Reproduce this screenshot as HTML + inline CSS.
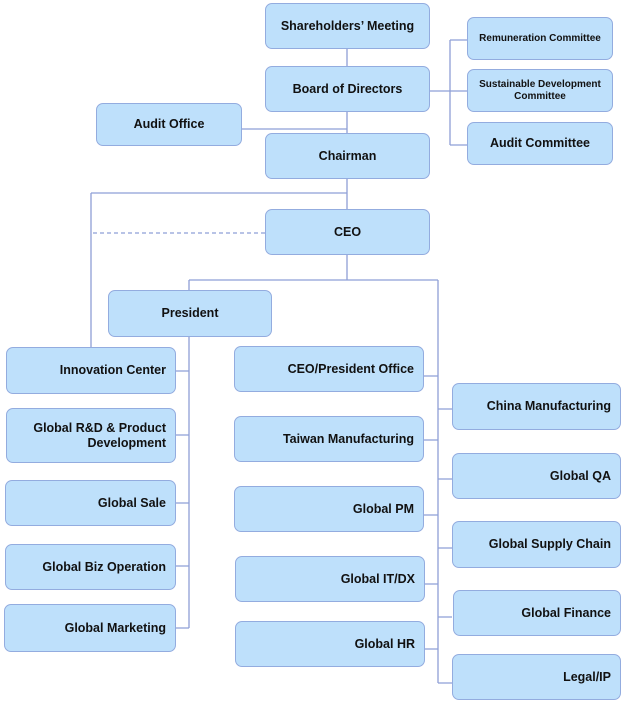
<!DOCTYPE html>
<html><head><meta charset="utf-8"><style>
body{margin:0;width:624px;height:708px;background:#fff;position:relative;overflow:hidden;font-family:"Liberation Sans",sans-serif;}
.b{position:absolute;box-sizing:border-box;background:#bee0fb;border:1.5px solid #93acdf;border-radius:7px;display:flex;align-items:center;justify-content:center;font-weight:bold;font-size:12.5px;color:#111;text-align:center;line-height:15px;}
.r{justify-content:flex-end;text-align:right;padding-right:9px;}
.s{font-size:10px;line-height:12px;}
svg{position:absolute;left:0;top:0;}
</style></head><body>
<svg width="624" height="708" stroke="#8e9fd6" stroke-width="1.3" fill="none">
<path d="M347 48V133M242 129H347M347 179V209M91 193H347M91 193V347M347 255V280M189 280H438M189 280V290M438 280V683M189 337V628"/>
<path d="M430 91H467M450 40V145M450 40H467M450 145H467"/>
<path d="M176 371H189M176 435H189M176 503H189M176 566H189M176 628H189"/>
<path d="M424 376H438M424 440H438M424 515H438M424 584H438M424 649H438"/>
<path d="M438 409H452M438 479H452M438 548H452M438 617H452M438 683H452"/>
<path d="M93 233H265" stroke-dasharray="4 3"/>
</svg>
<div class="b" style="left:265px;top:3px;width:165px;height:46px">Shareholders’ Meeting</div>
<div class="b" style="left:265px;top:66px;width:165px;height:46px">Board of Directors</div>
<div class="b" style="left:96px;top:103px;width:146px;height:43px">Audit Office</div>
<div class="b" style="left:265px;top:133px;width:165px;height:46px">Chairman</div>
<div class="b" style="left:265px;top:209px;width:165px;height:46px">CEO</div>
<div class="b" style="left:108px;top:290px;width:164px;height:47px">President</div>
<div class="b s" style="left:467px;top:17px;width:146px;height:43px">Remuneration Committee</div>
<div class="b s" style="left:467px;top:69px;width:146px;height:43px">Sustainable Development<br>Committee</div>
<div class="b" style="left:467px;top:122px;width:146px;height:43px">Audit Committee</div>

<div class="b r" style="left:6px;top:347px;width:170px;height:47px">Innovation Center</div>
<div class="b r" style="left:6px;top:408px;width:170px;height:55px">Global R&amp;D &amp; Product<br>Development</div>
<div class="b r" style="left:5px;top:480px;width:171px;height:46px">Global Sale</div>
<div class="b r" style="left:5px;top:544px;width:171px;height:46px">Global Biz Operation</div>
<div class="b r" style="left:4px;top:604px;width:172px;height:48px">Global Marketing</div>

<div class="b r" style="left:234px;top:346px;width:190px;height:46px">CEO/President Office</div>
<div class="b r" style="left:234px;top:416px;width:190px;height:46px">Taiwan Manufacturing</div>
<div class="b r" style="left:234px;top:486px;width:190px;height:46px">Global PM</div>
<div class="b r" style="left:235px;top:556px;width:190px;height:46px">Global IT/DX</div>
<div class="b r" style="left:235px;top:621px;width:190px;height:46px">Global HR</div>

<div class="b r" style="left:452px;top:383px;width:169px;height:47px">China Manufacturing</div>
<div class="b r" style="left:452px;top:453px;width:169px;height:46px">Global QA</div>
<div class="b r" style="left:452px;top:521px;width:169px;height:47px">Global Supply Chain</div>
<div class="b r" style="left:453px;top:590px;width:168px;height:46px">Global Finance</div>
<div class="b r" style="left:452px;top:654px;width:169px;height:46px">Legal/IP</div>
</body></html>
